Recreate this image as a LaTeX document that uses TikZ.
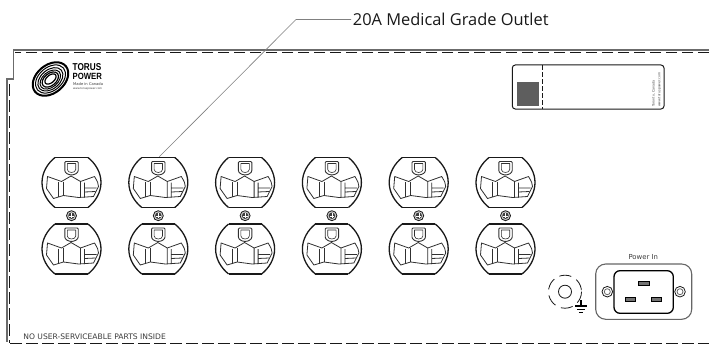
\documentclass[tikz,border=0pt]{standalone}
\usepackage{fontspec}
\setmainfont{DejaVu Sans}
\newfontfamily\labelfont{Open Sans}
\newfontfamily\logofont{Liberation Sans}
\usetikzlibrary{calc}
\definecolor{framegray}{gray}{0.42}
\definecolor{leadgray}{gray}{0.5}
\definecolor{ink}{gray}{0.1}
\tikzset{
  framesolid/.style={draw=framegray,line width=1.2pt},
  framedash/.style={draw=ink,line width=1pt,dash pattern=on 11.5pt off 4.5pt},
  leader/.style={draw=leadgray,line width=0.6pt},
  slot/.style={draw=ink!90,line width=0.8pt,line join=round},
  smalltext/.style={inner sep=0pt,text=ink!85},
  outlet/.pic={
    \draw[ink,line width=1.3pt] (-16.5,-25) .. controls (-24,-19) and (-29.5,-10) .. (-29.5,0) .. controls (-29.5,10) and (-24,19) .. (-16.5,25);
    \draw[ink,line width=1.3pt] (16.5,-25) .. controls (24,-19) and (29.5,-10) .. (29.5,0) .. controls (29.5,10) and (24,19) .. (16.5,25);
    \draw[ink,line width=1.8pt] (-16.5,-25) -- (16.5,-25);
    \draw[ink,line width=1.8pt] (-16.5,25) -- (16.5,25);
    \draw[slot] (-24,-6) -- (-10,-1) -- (-0.5,-6.5) -- (9,-1) -- (23,-6) .. controls (26,-1) and (27,1) .. (27,4) -- (22,14) -- (7,15) -- (-8,13) -- (-18,16) -- (-25,6) -- cycle;
    \draw[slot] (-13,-0.5) -- (-13,14.5) (-8,-1) -- (-8,13);
    \draw[slot] (9,-1) -- (9,15) (13,0) -- (13,15) (13,5.5) -- (25,5.5) (13,9.5) -- (24,9);
    \draw[slot,line width=0.9pt,rounded corners=1pt] (-6.7,-21) -- (6.7,-21) -- (6.7,-13) .. controls (6.7,-9.5) and (3,-7.7) .. (0,-7.7) .. controls (-3,-7.7) and (-6.7,-9.5) .. (-6.7,-13) -- cycle;
    \draw[slot,line width=0.6pt] (-4.2,-19) -- (4.2,-19) -- (4.2,-13) .. controls (4.2,-11) and (2,-10) .. (0,-10) .. controls (-2,-10) and (-4.2,-11) .. (-4.2,-13) -- cycle;
  },
  screwhead/.pic={
    \draw[ink,line width=0.8pt,fill=black!20] (0,0) circle (5);
    \fill[ink!85] (0,0) circle (3.2);
    \draw[white,line width=0.25pt] (-2.4,0) -- (2.4,0) (0,-2.4) -- (0,2.4);
  }
}
\begin{document}
\begin{tikzpicture}[x=1pt,y=-1pt]
\useasboundingbox (0,0) rectangle (709,345);
\fill[white] (0,0) rectangle (709,345);

% frame
\draw[framesolid] (709,50) -- (13.3,50) -- (13.3,79) -- (7,79) -- (7,342);
\draw[framedash] (709,52.8) -- (15,52.8);
\draw[framedash] (9.2,84) -- (9.2,343);
\draw[framedash] (10,343) -- (709,343);

% label and leader
\node[inner sep=0pt,anchor=west,font=\labelfont\fontsize{16.4}{18}\selectfont,text=ink] (outletlabel) at (352.7,19.5) {20A Medical Grade Outlet};
\coordinate (leadknee) at (296,19.5);
\coordinate (leadend) at (159.3,156.7);
\draw[leader] (outletlabel.west) ++(-1.5,0) -- (leadknee) -- (leadend);

% logo
\begin{scope}[shift={(50.5,79)},rotate=40]
  \draw[black,line width=2pt] (0,0) ellipse (20 and 14);
  \draw[black,line width=1pt] (0,0) ellipse (17 and 11.6);
  \draw[black,line width=1pt] (-0.3,0.2) ellipse (14.3 and 9.5);
  \draw[black,line width=1pt] (-0.5,0.3) ellipse (11.8 and 7.6);
  \draw[black,line width=1.2pt] (-0.5,0.3) ellipse (9.4 and 6);
  \draw[black,line width=1.2pt,fill=white] (0,0) ellipse (6.6 and 3.8);
\end{scope}
\node[inner sep=0pt,anchor=west,font=\logofont\bfseries\fontsize{10}{11}\selectfont,text=black] (logotop) at (72.5,66.6) {\scalebox{0.82}[1]{TORUS}};
\node[inner sep=0pt,anchor=west,font=\logofont\bfseries\fontsize{9}{10}\selectfont,text=black] (logobottom) at (72.5,76) {\scalebox{0.86}[1]{POWER}};
\node[smalltext,anchor=west,font=\fontsize{3.7}{4}\selectfont] (logomade) at (73,84.3) {Made in Canada};
\node[smalltext,anchor=west,font=\fontsize{2.7}{3}\selectfont] (logoweb) at (73,88.7) {www.toruspower.com};

% sticker
\draw[ink,line width=1pt,rounded corners=3pt] (512.3,65) rectangle (664,109);
\draw[ink,line width=1pt,dash pattern=on 5pt off 2pt] (542.3,65) -- (542.3,109);
\fill[black!63] (516.7,82) rectangle (539,105.7);
\node[smalltext,anchor=west,rotate=90,font=\fontsize{3.2}{4}\selectfont] (stickera) at (653.5,107) {Toronto, Canada};
\node[smalltext,anchor=west,rotate=90,font=\fontsize{3.2}{4}\selectfont] (stickerb) at (659.5,107) {www.toruspower.com};

% outlets
\foreach \cx in {71.5,158.3,245.1,331.9,418.7,505.5}{
  \pic at (\cx,182.5) {outlet};
  \pic at (\cx,249) {outlet};
  \pic at (\cx,215.7) {screwhead};
}

% ground
\draw[ink,line width=0.8pt,dash pattern=on 12pt off 6pt] (565,291.7) circle (16.5);
\draw[ink,line width=0.8pt] (565,291.7) circle (6.5);
\coordinate (gndtop) at (581,300);
\coordinate (gndbar) at (581,306);
\draw[black,line width=1.6pt] (gndtop) -- (gndbar);
\draw[black,line width=1.3pt] (575,306) -- (587,306);
\draw[black,line width=1.3pt] (577,309.3) -- (585,309.3);
\draw[black,line width=1.3pt] (578.8,312.7) -- (583.2,312.7);

% inlet
\draw[black!60,line width=1.1pt,rounded corners=10pt] (595.7,264) rectangle (691.7,319.3);
\draw[black,line width=1.3pt,rounded corners=6pt] (614,270.7) rectangle (673.3,313.3);
\foreach \sx in {607.3,680}{
  \draw[ink,line width=0.8pt] (\sx,291.7) circle (5.3);
  \draw[black!60,line width=0.8pt] (\sx,291.7) circle (3);
}
\draw[black,line width=1pt,fill=black!55] (638.5,281) rectangle (649.5,285.6);
\draw[black,line width=1pt,fill=black!55] (625.5,297.2) rectangle (635.9,301.5);
\draw[black,line width=1pt,fill=black!55] (651.5,297.2) rectangle (661.9,301.5);
\node[smalltext,font=\fontsize{6.9}{8}\selectfont] (powerin) at (643.3,257.3) {Power In};

\node[smalltext,anchor=west,font=\fontsize{7.6}{8}\selectfont] (warning) at (23.2,337) {NO USER-SERVICEABLE PARTS INSIDE};
\end{tikzpicture}
\end{document}
